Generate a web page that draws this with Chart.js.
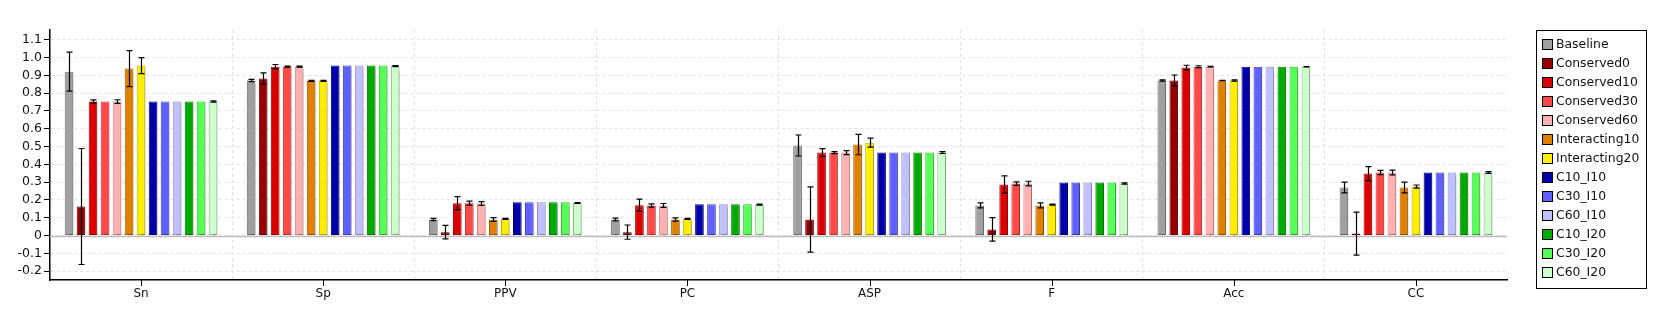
<!DOCTYPE html>
<html>
<head>
<meta charset="utf-8">
<script src="https://cdn.jsdelivr.net/npm/chart.js@4/dist/chart.umd.min.js"></script>
<style>
  html, body { margin: 0; padding: 0; background: #fff; }
  #wrap { width: 1666px; height: 334px; }
</style>
</head>
<body>
<div id="wrap"><canvas id="barChart" width="1666" height="334"></canvas></div>
<script>
const categories = ['Sn', 'Sp', 'PPV', 'PC', 'ASP', 'F', 'Acc', 'CC'];
const yTicks = [-0.2, -0.1, 0, 0.1, 0.2, 0.3, 0.4, 0.5, 0.6, 0.7, 0.8, 0.9, 1.0, 1.1];

const seriesNames = ['Baseline', 'Conserved0', 'Conserved10', 'Conserved30', 'Conserved60',
  'Interacting10', 'Interacting20', 'C10_I10', 'C30_I10', 'C60_I10', 'C10_I20', 'C30_I20', 'C60_I20'];

const baseline      = [0.921, 0.871, 0.090, 0.090, 0.506, 0.169, 0.871, 0.270];
const conserved0    = [0.163, 0.882, 0.019, 0.019, 0.090, 0.034, 0.871, 0.011];
const conserved10   = [0.753, 0.949, 0.182, 0.170, 0.466, 0.287, 0.944, 0.348];
const conserved30   = [0.753, 0.949, 0.182, 0.169, 0.466, 0.292, 0.949, 0.354];
const conserved60   = [0.753, 0.949, 0.180, 0.169, 0.466, 0.292, 0.949, 0.354];
const interacting10 = [0.938, 0.869, 0.090, 0.090, 0.511, 0.169, 0.871, 0.270];
const interacting20 = [0.955, 0.869, 0.094, 0.094, 0.522, 0.174, 0.871, 0.275];
const c10i10        = [0.753, 0.955, 0.187, 0.176, 0.466, 0.298, 0.949, 0.354];
const c30i10        = [0.753, 0.955, 0.187, 0.176, 0.466, 0.298, 0.949, 0.354];
const c60i10        = [0.753, 0.955, 0.187, 0.176, 0.466, 0.298, 0.949, 0.354];
const c10i20        = [0.753, 0.955, 0.187, 0.176, 0.466, 0.298, 0.949, 0.354];
const c30i20        = [0.753, 0.955, 0.187, 0.176, 0.466, 0.298, 0.949, 0.354];
const c60i20        = [0.753, 0.952, 0.183, 0.173, 0.466, 0.292, 0.949, 0.354];

// standard deviations (half length of the error bars)
const baselineErr      = [0.110, 0.006, 0.006, 0.008, 0.059, 0.014, 0.004, 0.030];
const conserved0Err    = [0.326, 0.032, 0.038, 0.040, 0.183, 0.066, 0.031, 0.121];
const conserved10Err   = [0.009, 0.012, 0.037, 0.034, 0.022, 0.048, 0.013, 0.039];
const conserved30Err   = [0.000, 0.003, 0.011, 0.009, 0.006, 0.010, 0.005, 0.012];
const conserved60Err   = [0.010, 0.003, 0.011, 0.011, 0.011, 0.013, 0.002, 0.013];
const interacting10Err = [0.101, 0.003, 0.010, 0.009, 0.057, 0.014, 0.001, 0.030];
const interacting20Err = [0.045, 0.003, 0.003, 0.003, 0.025, 0.003, 0.004, 0.009];
const noErr            = [0, 0, 0, 0, 0, 0, 0, 0];
const c60i20Err        = [0.004, 0.003, 0.002, 0.003, 0.005, 0.004, 0.001, 0.005];

const seriesValues = [baseline, conserved0, conserved10, conserved30, conserved60,
  interacting10, interacting20, c10i10, c30i10, c60i10, c10i20, c30i20, c60i20];
const seriesErrors = [baselineErr, conserved0Err, conserved10Err, conserved30Err, conserved60Err,
  interacting10Err, interacting20Err, noErr, noErr, noErr, noErr, noErr, c60i20Err];

const fills = ['#a0a0a0', '#990000', '#dd0000', '#ff4848', '#ffb0b0', '#e08000', '#ffee00',
  '#0000aa', '#6060ff', '#c0c0ff', '#00aa00', '#55ff55', '#ccffcc'];
const borders = ['#707070', '#660000', '#aa0000', '#cc3333', '#cc8080', '#a05a00', '#c0a800',
  '#000080', '#4040c0', '#9090c8', '#008000', '#33bb33', '#88bb88'];

const FONT = 'DejaVu Sans';

// bar shadows, error bars, category tick marks
const errorBars = {
  id: 'errorBars',
  beforeDatasetsDraw(chart) {
    const ctx = chart.ctx;
    ctx.save();
    ctx.shadowColor = 'rgba(0,0,0,0.16)';
    ctx.shadowOffsetX = 3;
    ctx.shadowOffsetY = 2;
    ctx.shadowBlur = 1;
  },
  afterDatasetsDraw(chart) {
    const ctx = chart.ctx;
    ctx.restore();
    const y = chart.scales.y;
    ctx.save();
    ctx.strokeStyle = '#000';
    ctx.lineWidth = 1.2;
    chart.data.datasets.forEach((ds, i) => {
      const meta = chart.getDatasetMeta(i);
      meta.data.forEach((bar, j) => {
        const e = seriesErrors[i][j];
        if (!e) return;
        const v = ds.data[j];
        const top = y.getPixelForValue(v + e);
        const bot = y.getPixelForValue(v - e);
        const x = Math.round(bar.x) + 0.5;
        ctx.beginPath();
        ctx.moveTo(x, top); ctx.lineTo(x, bot);
        ctx.moveTo(x - 3, top); ctx.lineTo(x + 3, top);
        ctx.moveTo(x - 3, bot); ctx.lineTo(x + 3, bot);
        ctx.stroke();
      });
    });
    ctx.restore();
  },
  afterDraw(chart) {
    const ctx = chart.ctx;
    const area = chart.chartArea;
    const x = chart.scales.x;
    ctx.save();
    ctx.strokeStyle = '#000';
    ctx.lineWidth = 1;
    categories.forEach((c, i) => {
      const px = Math.round(x.getPixelForValue(i)) + 0.5;
      ctx.beginPath();
      ctx.moveTo(px, area.bottom);
      ctx.lineTo(px, area.bottom + 6);
      ctx.stroke();
    });
    ctx.restore();
  }
};

const zeroLine = {
  id: 'zeroLine',
  beforeDatasetsDraw(chart) {
    const ctx = chart.ctx;
    const area = chart.chartArea;
    const py = Math.round(chart.scales.y.getPixelForValue(0)) + 0.5;
    ctx.save();
    ctx.strokeStyle = '#bdbdbd';
    ctx.lineWidth = 1.5;
    ctx.beginPath();
    ctx.moveTo(area.left, py);
    ctx.lineTo(area.right, py);
    ctx.stroke();
    ctx.restore();
  }
};

const legendBox = {
  id: 'legendBox',
  afterDraw(chart) {
    const ctx = chart.ctx;
    ctx.save();
    ctx.strokeStyle = '#000';
    ctx.lineWidth = 1;
    ctx.strokeRect(1536.5, 30.5, 110, 258);
    ctx.font = '12.4px "' + FONT + '"';
    ctx.textBaseline = 'middle';
    chart.data.datasets.forEach((ds, i) => {
      const cy = 44 + i * 19;
      ctx.fillStyle = ds.backgroundColor;
      ctx.fillRect(1542, cy - 5, 10, 10);
      ctx.strokeStyle = '#000';
      ctx.strokeRect(1542.5, cy - 4.5, 10, 10);
      ctx.fillStyle = '#111';
      ctx.fillText(ds.label, 1556, cy + 1);
    });
    ctx.restore();
  }
};

const datasets = seriesNames.map((name, i) => ({
  label: name,
  data: seriesValues[i],
  backgroundColor: fills[i],
  borderColor: borders[i],
  borderWidth: 1,
  borderSkipped: false,
  categoryPercentage: 0.857,
  barPercentage: 0.72
}));

new Chart(document.getElementById('barChart'), {
  type: 'bar',
  data: { labels: categories, datasets: datasets },
  plugins: [zeroLine, errorBars, legendBox],
  options: {
    responsive: false,
    animation: false,
    events: [],
    layout: { padding: { left: 0, top: 30, right: 159, bottom: 24 } },
    plugins: { legend: { display: false }, tooltip: { enabled: false } },
    scales: {
      x: {
        offset: true,
        grid: {
          offset: true,
          drawTicks: false,
          color: c => (c.type === 'scale' ? 'rgba(0,0,0,0)' : '#e2e2e2')
        },
        border: { display: true, color: '#000', width: 1.5, dash: [3, 3] },
        ticks: { color: '#111', padding: 7, font: { family: FONT, size: 12 } },
        afterFit(scale) { scale.height = 30; }
      },
      y: {
        min: -0.25,
        max: 1.155,
        afterBuildTicks(scale) { scale.ticks = yTicks.map(v => ({ value: v })); },
        grid: {
          color: '#e2e2e2',
          tickColor: '#000',
          tickLength: 6,
          tickBorderDash: []
        },
        border: { display: true, color: '#000', width: 1.5, dash: [3, 3] },
        ticks: {
          color: '#111',
          padding: 2,
          font: { family: FONT, size: 12.5 },
          callback: v => (Math.abs(v) < 1e-9 ? '0' : v.toFixed(1))
        },
        afterFit(scale) { scale.width = 50; }
      }
    }
  }
});
</script>
</body>
</html>
